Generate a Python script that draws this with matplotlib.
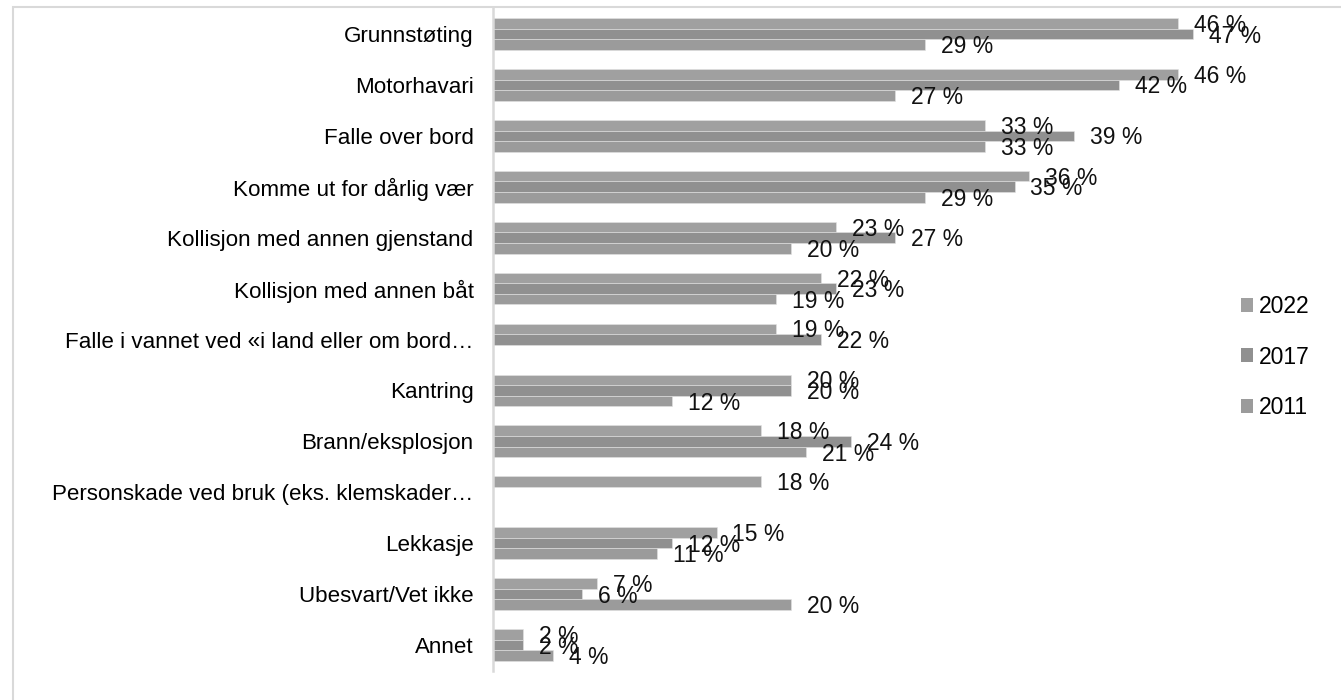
import numpy as np
import matplotlib
matplotlib.use('Agg')
import matplotlib.pyplot as plt
from matplotlib.patches import Rectangle

# Categories (top to bottom) and values per survey year
categories = [
    "Grunnstøting",
    "Motorhavari",
    "Falle over bord",
    "Komme ut for dårlig vær",
    "Kollisjon med annen gjenstand",
    "Kollisjon med annen båt",
    "Falle i vannet ved «i land eller om bord…",
    "Kantring",
    "Brann/eksplosjon",
    "Personskade ved bruk (eks. klemskader…",
    "Lekkasje",
    "Ubesvart/Vet ikke",
    "Annet",
]
years = ["2022", "2017", "2011"]
vals_2022 = [46, 46, 33, 36, 23, 22, 19, 20, 18, 18, 15, 7, 2]
vals_2017 = [47, 42, 39, 35, 27, 23, 22, 20, 24, np.nan, 12, 6, 2]
vals_2011 = [29, 27, 33, 29, 20, 19, np.nan, 12, 21, np.nan, 11, 20, 4]
colors = ["#a0a0a0", "#909090", "#9b9b9b"]

plt.rcParams['font.family'] = ['Liberation Sans', 'DejaVu Sans']
fs = 16.5

fig = plt.figure(figsize=(13.41, 7.0), dpi=100)
# light frame around the chart area
fig.patches.append(Rectangle((13 / 1341, -0.05), 1.2, 1 - 7 / 700 + 0.05,
                             transform=fig.transFigure, fill=False,
                             edgecolor='#d9d9d9', linewidth=1.5))

ax = fig.add_axes([493 / 1341, 1 - 670.5 / 700, (1238 - 493) / 1341, (670.5 - 8.5) / 700])

y = np.arange(len(categories))
h = 0.208
series = [vals_2022, vals_2017, vals_2011]
for i, (vals, yr, c) in enumerate(zip(series, years, colors)):
    pos = y + (i - 1) * h
    ax.barh(pos, vals, height=h, color=c, edgecolor='#e3e3e3', linewidth=0.4, label=yr)
    for p, v in zip(pos, vals):
        if np.isnan(v):
            continue
        ax.annotate(f"{int(v)} %", xy=(v, p), xytext=(11.5, -1.5), textcoords='offset points',
                    ha='left', va='center', fontsize=fs, color='#111111')

ax.set_xlim(0, 50)
ax.set_ylim(len(categories) - 0.5, -0.5)
ax.set_yticks(y)
ax.set_yticklabels(categories, fontsize=16.1)
ax.tick_params(axis='y', length=0, pad=14)
ax.set_xticks([])
for s in ['top', 'right', 'bottom']:
    ax.spines[s].set_visible(False)
ax.spines['left'].set_color('#d9d9d9')
ax.spines['left'].set_linewidth(1.8)

handles, labels = ax.get_legend_handles_labels()
leg = fig.legend(handles, labels, loc='center left', bbox_to_anchor=(1220 / 1341, 1 - 357 / 700),
                 frameon=False, fontsize=fs, handlelength=0.55, handleheight=0.55,
                 handletextpad=0.25, labelspacing=1.2)
for hd in leg.legend_handles:
    hd.set_edgecolor('none')

fig.savefig('out.png', dpi=100)
